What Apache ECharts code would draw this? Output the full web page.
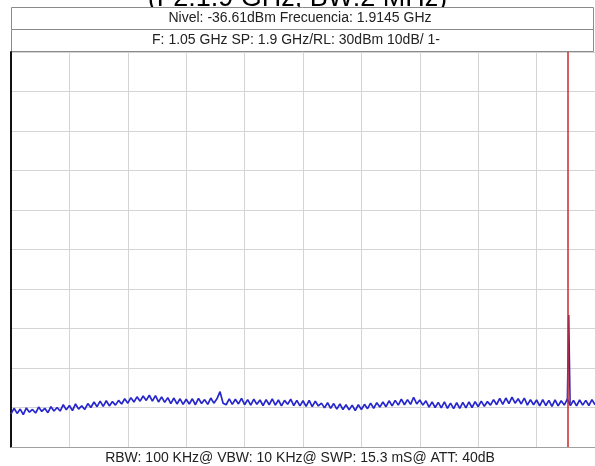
<!DOCTYPE html>
<html><head><meta charset="utf-8">
<script src="https://cdn.jsdelivr.net/npm/echarts@6/dist/echarts.min.js"></script>
<style>html,body{margin:0;padding:0;background:#fff}#c{width:595px;height:466px}</style>
</head><body><div id="c"></div>
<script>
var titleText = "(F2:1.9 GHz, BW:2 MHz)";
var headerLine1 = "Nivel: -36.61dBm Frecuencia: 1.9145 GHz";
var headerLine2 = "F: 1.05 GHz SP: 1.9 GHz/RL: 30dBm 10dB/ 1-";
var footerLine = "RBW: 100 KHz@ VBW: 10 KHz@ SWP: 15.3 mS@ ATT: 40dB";
var freqStart = 0.1, freqStop = 2.0, freqStep = 0.01; // GHz sweep
var levelMin = -70, levelMax = 30, levelDiv = 10;   // dBm
var markerFreq = 1.9145, markerLevel = -36.61;
var traceLevels = [
-61.6,-60.2,-61.5,-60.4,-61.8,-60.1,-61.2,-60.5,-61.4,-59.9,-61.0,-60.2,-61.3,-59.8,-60.9,-60.0,
-60.9,-59.3,-60.6,-59.5,-60.8,-59.1,-60.4,-59.6,-60.5,-59.0,
-60.0,-58.6,-59.8,-58.4,-59.7,-58.3,-59.6,-58.5,-59.4,-58.2,
-59.1,-57.8,-58.9,-57.5,-58.6,-57.3,-58.4,-57.1,-58.2,-56.9,
-58.4,-57.0,-58.6,-57.3,-58.7,-57.5,-59.0,-57.6,-59.1,-57.8,
-59.2,-57.9,-59.1,-57.8,-59.3,-57.7,-59.0,-58.0,-59.2,-57.6,-58.9,-57.8,-56.0,-58.9,-59.3,-57.8,-59.2,-57.9,-59.1,-57.7,
-59.3,-58.0,-59.4,-57.9,-59.2,-58.1,-59.5,-58.0,-59.3,-57.8,-59.4,-58.1,-59.6,-58.2,-59.2,
-57.9,-59.5,-58.2,-59.6,-58.3,-59.7,-58.2,-59.8,-58.4,-59.6,
-58.9,-60.1,-58.8,-60.2,-59.0,-60.4,-59.1,-60.5,-59.3,-60.6,-59.4,-60.8,-59.3,-60.5,-59.2,-60.3,-58.9,-60.2,-58.8,-59.9,
-58.6,-59.8,-58.3,-59.6,-58.2,-59.4,-57.9,-59.3,-58.0,-59.2,-57.4,-59.1,-58.1,-59.4,-58.3,
-59.9,-58.6,-60.0,-58.7,-60.1,-58.6,-60.2,-58.9,-60.3,-58.8,-60.2,-58.7,-60.1,-58.6,-60.0,-58.5,-59.8,-58.4,-59.7,-58.5,
-59.4,-58.0,-59.3,-57.7,-59.2,-57.6,-59.0,-57.4,-58.9,-57.8,-59.1,-57.6,-59.4,-58.0,-59.3,
-58.1,-59.6,-58.0,-59.5,-58.2,-59.7,-58.1,-59.6,-58.3,-59.4,-57.9,-59.5,-58.2,-59.6,-58.1,-59.4,-58.2,-59.5,-58.0,-59.3
];
var peakFreqs = [1.910, 1.9145, 1.919];
var peakLevels = [-58.3, -36.61, -58.9];

var tracePts = traceLevels.map(function(v,i){ return [+(freqStart + i*freqStep).toFixed(4), v]; });
var peakPts = peakFreqs.map(function(f,i){ return [f, peakLevels[i]]; });

var chart = echarts.init(document.getElementById('c'), null, {renderer:'canvas'});
var font = '"Liberation Sans", Arial, sans-serif';
chart.setOption({
  animation:false,
  backgroundColor:'#fff',
  grid:{left:11, right:-1, top:52, bottom:19},
  xAxis:[
    {type:'value', min:freqStart, max:freqStop, show:true, axisLine:{show:false}, axisTick:{show:false}, axisLabel:{show:false}, splitLine:{show:false}},
    {type:'value', min:0, max:10, interval:1, position:'bottom', axisLine:{show:true, onZero:false, lineStyle:{color:'#a0a0a0', width:1}}, axisTick:{show:false}, axisLabel:{show:false}, splitLine:{show:true, lineStyle:{color:'#d4d4d4', width:1}}}
  ],
  yAxis:{type:'value', min:levelMin, max:levelMax, interval:levelDiv, axisLine:{show:true, onZero:false, lineStyle:{color:'#111', width:2}}, axisTick:{show:false}, axisLabel:{show:false}, splitLine:{show:true, lineStyle:{color:'#d4d4d4', width:1}}},
  series:[
    {type:'line', xAxisIndex:0, data:tracePts, showSymbol:false, lineStyle:{color:'#2626cc', width:1.7}, z:3},
    {type:'line', xAxisIndex:0, data:peakPts, showSymbol:false, lineStyle:{color:'#3a2ab0', width:1.6}, z:4,
     markLine:{silent:true, symbol:['none','none'], label:{show:false}, lineStyle:{color:'#cc2a2a', width:1.5, type:'solid'}, data:[{xAxis:markerFreq}]}}
  ],
  graphic:[
    {type:'text', left:'center', top:-15, style:{text:titleText, font:'27px '+font, fill:'#000'}},
    {type:'rect', shape:{x:11.5, y:7.5, width:582, height:22}, style:{fill:'#fff', stroke:'#8a8a8a', lineWidth:1}},
    {type:'rect', shape:{x:11.5, y:29.5, width:582, height:22}, style:{fill:'#fff', stroke:'#8a8a8a', lineWidth:1}},
    {type:'text', x:300, y:18.5, style:{text:headerLine1, font:'14px '+font, fill:'#222', align:'center', verticalAlign:'middle'}},
    {type:'text', x:296, y:40.5, style:{text:headerLine2, font:'14px '+font, fill:'#222', align:'center', verticalAlign:'middle'}},
    {type:'text', x:300, y:458, style:{text:footerLine, font:'14px '+font, fill:'#222', align:'center', verticalAlign:'middle'}}
  ]
});
</script></body></html>
